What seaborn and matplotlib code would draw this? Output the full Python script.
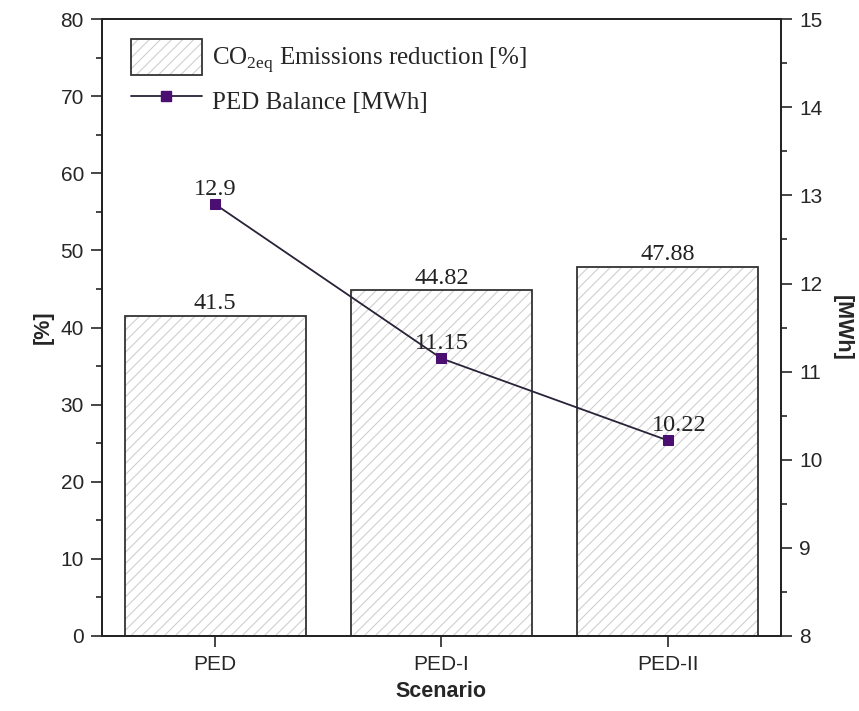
import matplotlib
matplotlib.use("Agg")
import matplotlib.pyplot as plt
import seaborn as sns
import pandas as pd
from matplotlib.patches import Patch
from matplotlib.lines import Line2D
from matplotlib.ticker import MultipleLocator

scenarios = ["PED", "PED-I", "PED-II"]
emissions_reduction = [41.5, 44.82, 47.88]
ped_balance = [12.9, 11.15, 10.22]
bar_labels = ["41.5", "44.82", "47.88"]
line_labels = ["12.9", "11.15", "10.22"]

df = pd.DataFrame({"Scenario": scenarios, "Reduction": emissions_reduction, "Balance": ped_balance})

sns.set_style("ticks")
plt.rcParams["font.family"] = ["Liberation Sans", "DejaVu Sans"]
plt.rcParams["hatch.linewidth"] = 0.8

SERIF = ["Liberation Serif", "DejaVu Serif"]
HATCH_C = "#cfcfcf"
EDGE_C = "#333333"

fig = plt.figure(figsize=(8.59, 7.11), dpi=100)
ax = fig.add_axes([0.1187, 0.1055, 0.7903, 0.8675])

# hatched fill
sns.barplot(data=df, x="Scenario", y="Reduction", ax=ax, color="white", width=0.8,
            edgecolor=HATCH_C, linewidth=0, hatch="///", errorbar=None, zorder=1)
# outlines
sns.barplot(data=df, x="Scenario", y="Reduction", ax=ax, fill=False, width=0.8,
            edgecolor=EDGE_C, linewidth=1.3, errorbar=None, zorder=2)

ax.set_xlim(-0.5, 2.5)
ax.set_ylim(0, 80)
ax.yaxis.set_major_locator(MultipleLocator(10))
ax.yaxis.set_minor_locator(MultipleLocator(5))
ax.tick_params(axis="y", which="major", length=8, width=1.2, labelsize=15, direction="out", pad=5)
ax.tick_params(axis="y", which="minor", length=4, width=1.2, direction="out")
ax.tick_params(axis="x", which="major", length=8, width=1.2, labelsize=15, direction="out", pad=6)
ax.set_xlabel("Scenario", fontsize=15.5, fontweight="bold", labelpad=5)
ax.set_ylabel("[%]", fontsize=15.5, fontweight="bold", labelpad=5)
for s in ax.spines.values():
    s.set_linewidth(1.3)
    s.set_color("#222222")
    s.set_visible(True)

for i, (v, t) in enumerate(zip(emissions_reduction, bar_labels)):
    ax.text(i, v + 0.2, t, ha="center", va="bottom", fontsize=17.5,
            family=SERIF, color="#222222")

ax2 = ax.twinx()
sns.lineplot(x=list(range(len(scenarios))), y=ped_balance, ax=ax2, color="#2a2238", linewidth=1.3,
             marker="s", markersize=7, markerfacecolor="#4b0f72", markeredgecolor="#4b0f72", zorder=5)
ax2.set_ylim(8, 15)
ax2.yaxis.set_major_locator(MultipleLocator(1))
ax2.yaxis.set_minor_locator(MultipleLocator(0.5))
ax2.tick_params(axis="y", which="major", length=8, width=1.2, labelsize=15, direction="out", pad=5)
ax2.tick_params(axis="y", which="minor", length=4, width=1.2, direction="out")
ax2.set_ylabel("[MWh]", fontsize=15.5, fontweight="bold", rotation=270, labelpad=22)
for s in ax2.spines.values():
    s.set_linewidth(1.3)
    s.set_color("#222222")

offsets = [0.0, 0.0, 0.05]
for i, (v, t) in enumerate(zip(ped_balance, line_labels)):
    ax2.text(i + offsets[i], v + 0.05, t, ha="center", va="bottom", fontsize=17.5,
             family=SERIF, color="#222222")

bar_handle = (Patch(facecolor="white", edgecolor=HATCH_C, hatch="///", linewidth=0),
              Patch(facecolor="none", edgecolor=EDGE_C, linewidth=1.3))
line_handle = Line2D([0], [0], color="#2a2238", linewidth=1.3, marker="s", markersize=7,
                     markerfacecolor="#4b0f72", markeredgecolor="#4b0f72")
labels = [r"CO$_{\mathregular{2eq}}$ Emissions reduction [%]", "PED Balance [MWh]"]
leg = ax2.legend([bar_handle, line_handle], labels, loc="upper left", frameon=False,
                 prop={"family": SERIF, "size": 18},
                 handlelength=2.83, handleheight=1.82, handletextpad=0.4,
                 borderpad=0, borderaxespad=0, labelspacing=0.33,
                 bbox_to_anchor=(29 / 679, 1 - 20 / 617))

fig.savefig("out.png", dpi=100)
